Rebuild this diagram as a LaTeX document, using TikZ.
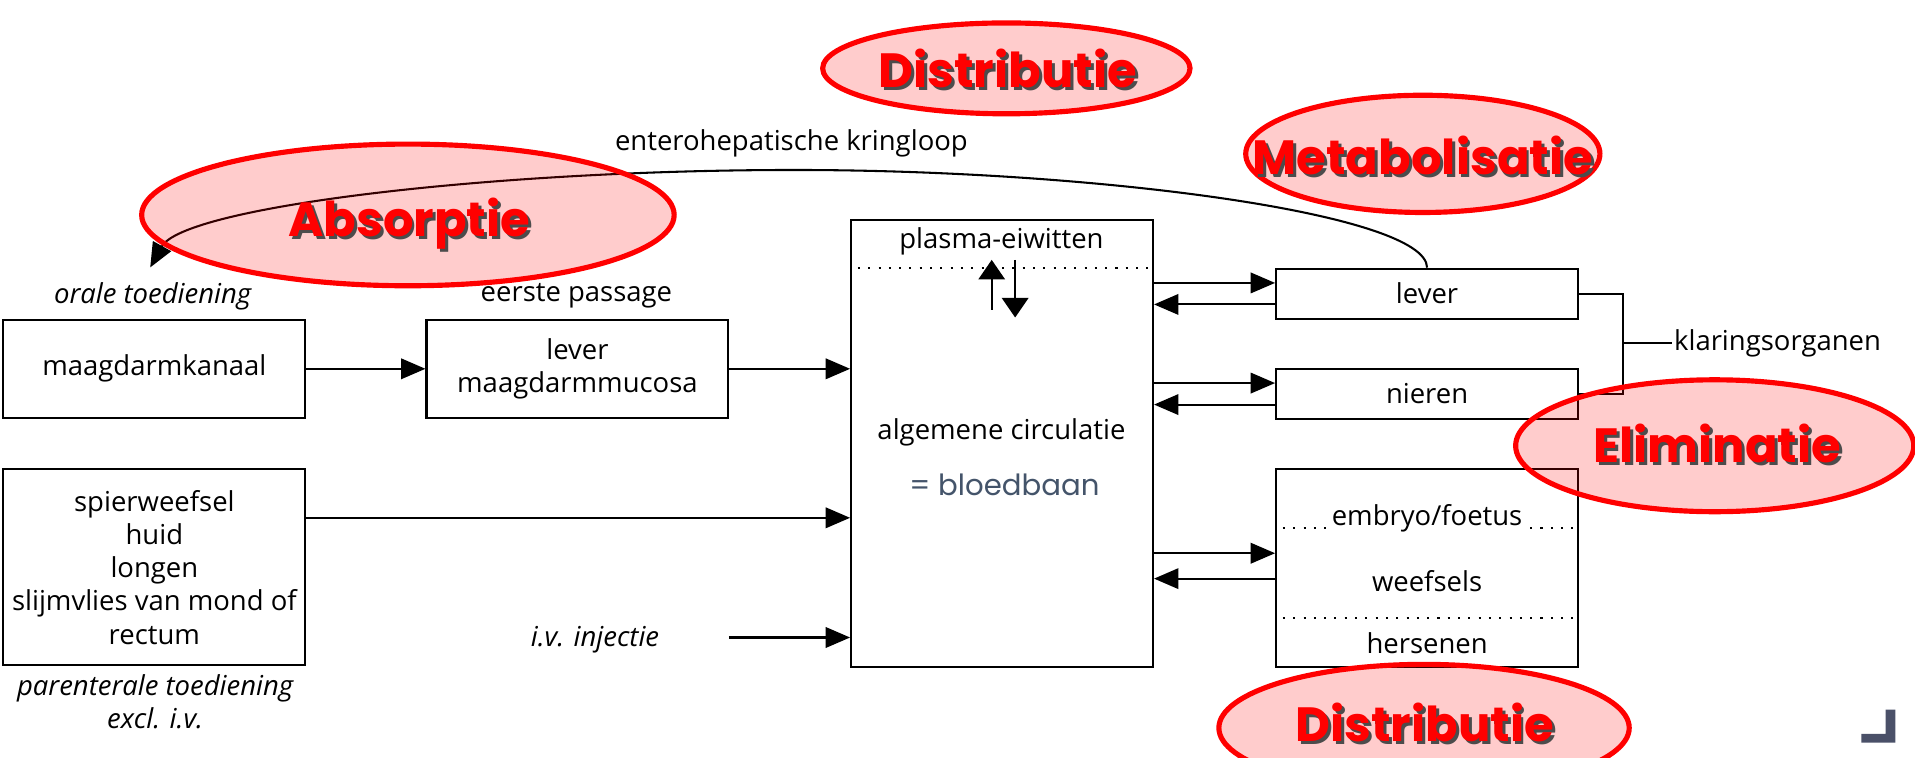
\documentclass[tikz,border=0pt]{standalone}
\usepackage{fontspec}
\setmainfont{Open Sans}
\newfontfamily\fasefont{Poppins}
\usetikzlibrary{arrows.meta,calc,shapes.geometric}
\definecolor{faserood}{RGB}{255,0,0}
\definecolor{bloedgrijs}{RGB}{68,84,106}
\definecolor{hoekgrijs}{RGB}{74,80,104}
\tikzset{
  box/.style={draw, semithick, minimum width=3.09cm, inner sep=1pt, align=center, font=\fontsize{8}{9.7}\selectfont},
  txt/.style={inner sep=1pt, align=center, font=\fontsize{8}{9.7}\selectfont},
  ital/.style={txt, font=\fontsize{8}{9.7}\selectfont\itshape},
  arr/.style={semithick, -{Triangle[length=2.5mm,width=2.1mm]}},
  wissel/.style={semithick, -{Triangle[length=2mm,width=2.7mm]}},
  stip/.style={semithick, dash pattern=on 0.6pt off 2.4pt},
  fase/.style={ellipse, draw=faserood, line width=1.5pt, fill=faserood, fill opacity=0.2, inner sep=0pt},
  fasetxt/.style={anchor=base, inner sep=0pt, text=faserood, font=\fasefont\bfseries\fontsize{14}{16}\selectfont},
}
% name, ellipse centre, width, height, text baseline, text
\newcommand{\fase}[6]{%
  \node[fase, minimum width=#3, minimum height=#4] (#1) at (#2) {};
  \node[fasetxt, text=black!70] (#1-sh) at ($(#5)+(0.03,-0.03)$) {#6};
  \node[fasetxt] (#1-txt) at (#5) {#6};}

\begin{document}
\begin{tikzpicture}
		%%%%% START %%%%%
		\useasboundingbox (0,0) rectangle (19.6,7.75);
		
		% toediening
		\node[box, minimum height=1.0cm] (maag) at (1.58,3.975) {maagdarmkanaal};
		\node[box, minimum height=1.0cm] (lev1) at (5.91,3.975) {lever\\maagdarmmucosa};
		\node[box, minimum height=2.01cm] (paren) at (1.58,1.944) {spierweefsel\\huid\\longen\\slijmvlies van mond of\\rectum};
		\node[ital] (oraal) at (1.5625,4.72) {orale toediening};
		\node[txt] (eerste) at (5.9,4.72) {eerste passage};
		\node[ital] (parentxt) at (1.5875,0.57) {parenterale toediening\\excl. i.v.};
		\node[ital] (ivtxt) at (6.09,1.2) {i.v. injectie};
		\coordinate (ivin) at (7.46,1.225);
		\coordinate (parin) at (3.125,2.45);
		
		% bloedbaan
		\node[box, minimum height=4.575cm] (circ) at (10.256,3.2125) {};
		\node[txt] (plasma) at (10.25,5.275) {plasma-eiwitten};
		\draw[stip] ($(circ.north west)+(0.08,-0.5)$) -- ($(circ.north east)+(0,-0.5)$);
		\coordinate (binding) at (10.15,5.09);
		\coordinate (vrij) at (10.39,4.5);
		\draw[wissel] (binding |- 0,4.58) -- (binding);
		\draw[wissel] (vrij |- binding) -- (vrij);
		\node[txt] (algemeen) at (10.25,3.325) {algemene circulatie};
		\node[txt, text=bloedgrijs, font=\fasefont\fontsize{8.5}{10}\selectfont] (bloed) at (10.28,2.79) {= bloedbaan};
		
		% organen
		\node[box, minimum height=0.5125cm] (lvR) at (14.606,4.744) {lever};
		\node[box, minimum height=0.5125cm] (nier) at (14.606,3.719) {nieren};
		\node[box, minimum height=2.025cm] (weef) at (14.606,1.9375) {};
		\draw[stip] ($(weef.west)+(0.08,0.4125)$) -- ($(weef.east)+(0,0.4125)$);
		\draw[stip] ($(weef.west)+(0.08,-0.5125)$) -- ($(weef.east)+(0,-0.5125)$);
		\node[txt, fill=white] (embryo) at (14.606,2.45) {embryo/foetus};
		\node[txt] (weefsels) at (14.606,1.8) {weefsels};
		\node[txt] (hersenen) at (14.606,1.1625) {hersenen};
		\node[txt, anchor=west, inner sep=0.5pt] (klaring) at (17.11,4.2375) {klaringsorganen};
		\coordinate (klem) at (16.6125,4.2375);
		\node[txt] (entero) at (8.1,6.2875) {enterohepatische kringloop};
		\coordinate (oraalin) at (1.5375,5.0125);
		
		% pijlen
		\draw[arr] (maag) -- (lev1);
		\draw[arr] (lev1) -- (lev1 -| circ.west);
		\draw[arr] (parin) -- (parin -| circ.west);
		\draw[arr] (ivin) -- (ivin -| circ.west);
		\draw[arr] ([yshift=1.1mm]circ.east |- lvR.west) -- ([yshift=1.1mm]lvR.west);
		\draw[arr] ([yshift=-1.1mm]lvR.west) -- ([yshift=-1.1mm]circ.east |- lvR.west);
		\draw[arr] ([yshift=1.1mm]circ.east |- nier.west) -- ([yshift=1.1mm]nier.west);
		\draw[arr] ([yshift=-1.1mm]nier.west) -- ([yshift=-1.1mm]circ.east |- nier.west);
		\draw[arr] ([yshift=1.5mm]circ.east |- weef.west) -- ([yshift=1.5mm]weef.west);
		\draw[arr] ([yshift=-1.1mm]weef.west) -- ([yshift=-1.1mm]circ.east |- weef.west);
		\draw[semithick] (lvR.east) -| (klem) |- (nier.east);
		\draw[semithick] (klem) -- (klaring.west);
		\draw[arr] (lvR.north) .. controls (14.6,5.56) and (11.25,6.01) .. (8.13,6.01)
		  .. controls (5.0,6.01) and (1.88,5.63) .. (oraalin);
		
		% fasen
		\fase{distT}{10.3,7.05}{3.76cm}{0.93cm}{10.3125,6.85}{Distributie}
		\fase{metab}{14.5625,6.175}{3.625cm}{1.2cm}{14.5625,5.9625}{Metabolisatie}
		\fase{absorp}{4.175,5.55}{5.45cm}{1.45cm}{4.1875,5.325}{Absorptie}
		\fase{elim}{17.55,3.1875}{4.075cm}{1.35cm}{17.575,3.0125}{Eliminatie}
		\fase{distB}{14.575,0.3}{4.2cm}{1.3cm}{14.58,0.156}{Distributie}
		
		\fill[hoekgrijs] (19.3,0.4875) -- (19.4,0.4875) -- (19.4,0.15) -- (19.05,0.15) -- (19.05,0.2375) -- (19.3,0.2375) -- cycle;
		%%%%% END %%%%%
\end{tikzpicture}
\end{document}
